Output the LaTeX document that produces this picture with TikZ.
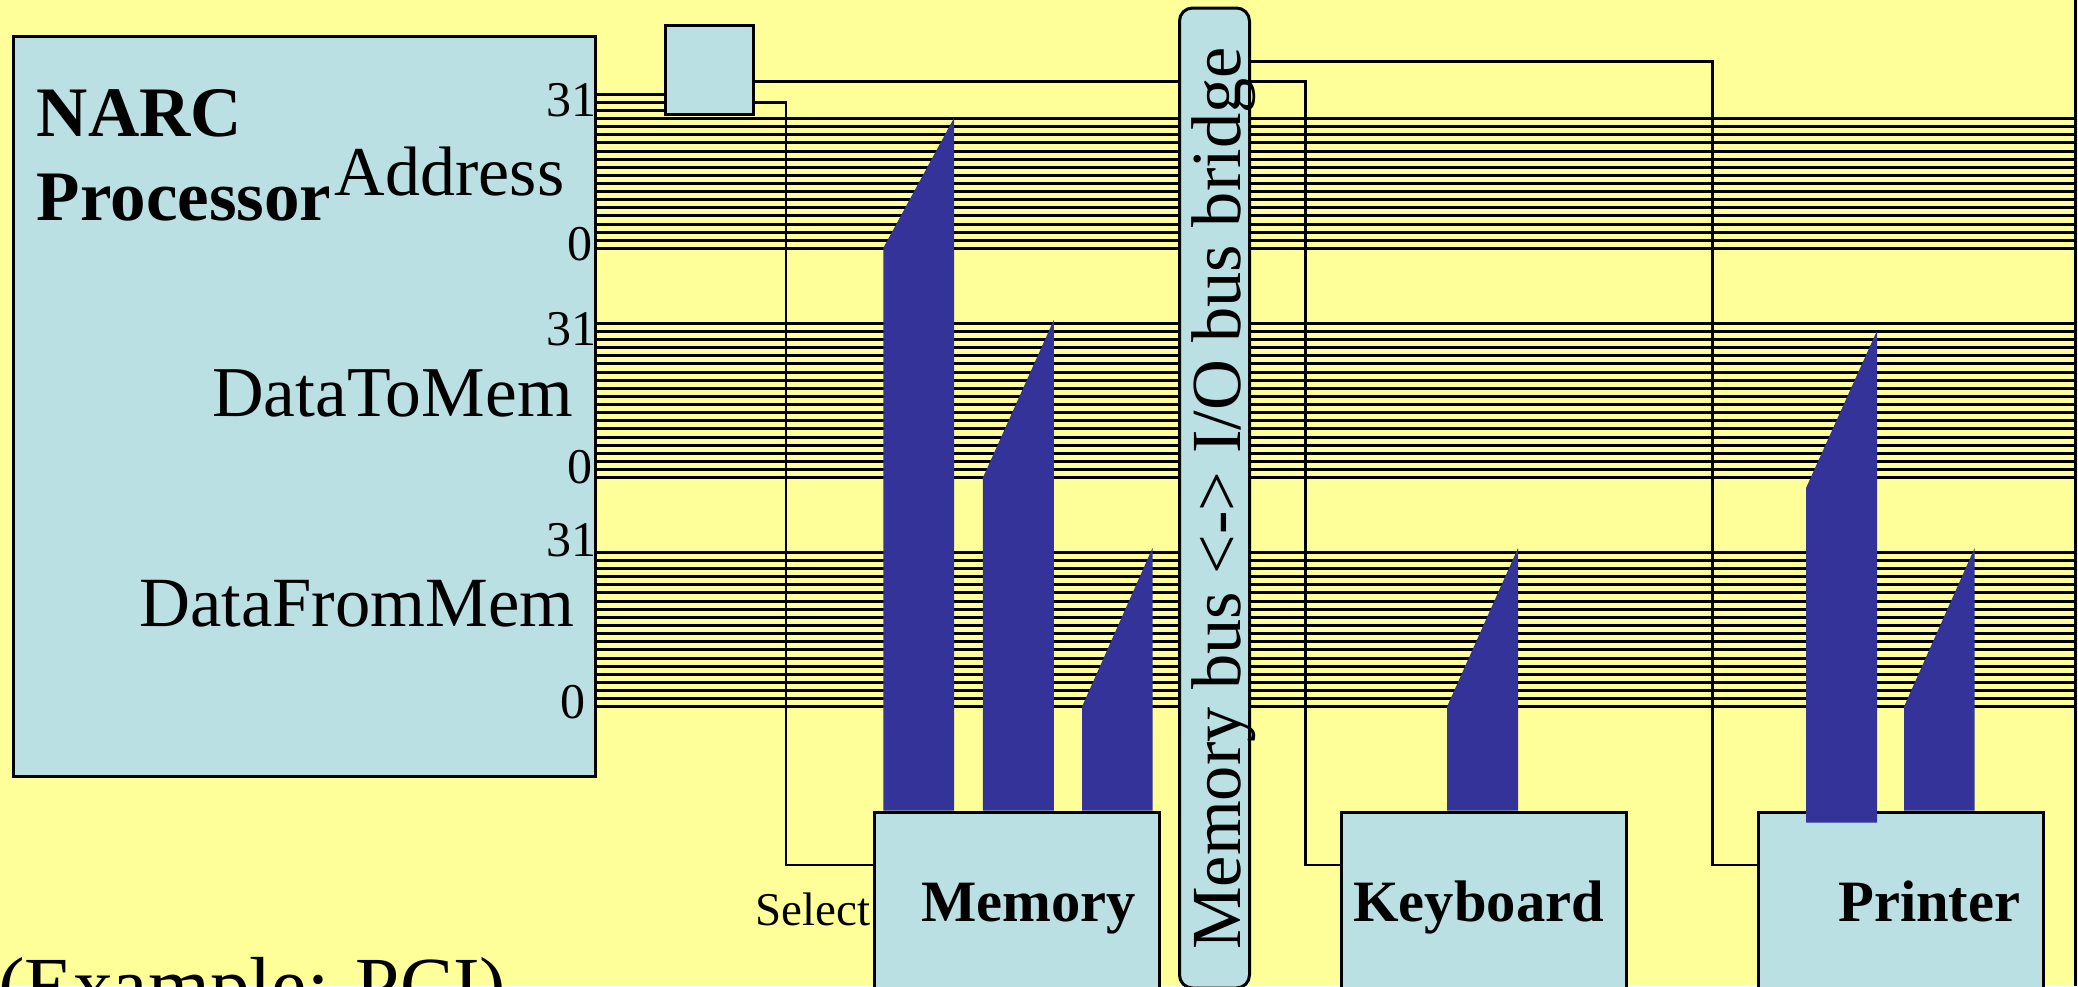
\documentclass[tikz,border=0pt]{standalone}
\usepackage{xcolor}
\usepackage{fontspec}
\setmainfont{Liberation Serif}
\usepackage{tikz}
\definecolor{pagecol}{HTML}{FFFF99}
\definecolor{boxcol}{HTML}{BBE0E3}
\definecolor{stubcol}{HTML}{333399}
\newcommand{\fsz}[1]{\fontsize{#1}{#1}\selectfont}

\begin{document}
\begin{tikzpicture}[x=1pt,y=-1pt,
  wire/.style={draw=black,line width=2.8pt,line cap=rect},
  buswire/.style={draw=black,line width=3pt},
  box/.style={draw=black,fill=boxcol,line width=3pt,outer sep=0pt,inner sep=0pt,anchor=north west},
  stub/.style={fill=stubcol},
  boxlabel/.style={font=\fsz{58.6}\bfseries,anchor=base west,inner sep=0pt},
  buslabel/.style={font=\fsz{70.6},anchor=base west,inner sep=0pt},
  bitlabel/.style={font=\fsz{50},anchor=base east,inner sep=0pt}]
\useasboundingbox (0,0) rectangle (2078,986);
\fill[pagecol] (0,0) rectangle (2078,986);
\clip (0,0) rectangle (2078,986);
\node[box,minimum width=582pt,minimum height=740pt] at (13,36) (cpu) {};
\node[box,minimum width=88pt,minimum height=89pt] at (665,25) (latch) {};
\node[box,minimum width=285.5pt,minimum height=300pt] at (874,812) (memory) {};
\node[box,minimum width=285pt,minimum height=300pt] at (1341,812) (keyboard) {};
\node[box,minimum width=285pt,minimum height=300pt] at (1758,812) (printer) {};
\coordinate (edge) at (2075,0);
\draw[buswire] (edge) -- (2075,986);
% address, data to memory, data from memory
\foreach \n [evaluate=\n as \y using 94.3+8.11*\n] in {0,1,2}
  \draw[buswire] (cpu.east |- 0,\y) -- (latch.west |- 0,\y);
\foreach \n [evaluate=\n as \y using 94.3+8.11*\n] in {3,...,19}
  \draw[buswire] (cpu.east |- 0,\y) -- (edge |- 0,\y);
\foreach \n [evaluate=\n as \y using 323.3+8.13*\n] in {0,...,19}
  \draw[buswire] (cpu.east |- 0,\y) -- (edge |- 0,\y);
\foreach \n [evaluate=\n as \y using 552.3+8.13*\n] in {0,...,19}
  \draw[buswire] (cpu.east |- 0,\y) -- (edge |- 0,\y);
\node[box,rounded corners=13pt,minimum width=70pt,minimum height=980pt] at (1179.5,8) (bridge) {};
\draw[wire] (latch.east |- 0,102.3) -- (786,102.3) |- (memory.west |- 0,865);
\draw[wire] (latch.east |- 0,81.3) -- (bridge.west |- 0,81.3);
\draw[wire] (bridge.east |- 0,81.3) -- (1305.5,81.3) |- (keyboard.west |- 0,865);
\draw[wire] (bridge.east |- 0,61.7) -- (1712.5,61.7) |- (printer.west |- 0,865);
% x left, x right, bottom, corner, tip
\foreach \xa/\xb/\yb/\yc/\yt in {883.3/954/810.5/248/118,982.9/1053.8/810.5/477.7/320,1082/1152.5/810.5/706.7/548,1447/1518/810.5/706.7/548,1806/1877/822.7/488/330.7,1904/1974.6/810.5/706.7/548}
  \fill[stub] (\xa,\yb) -- (\xb,\yb) -- (\xb,\yt) -- (\xa,\yc) -- cycle;
\node[font=\fsz{71}\bfseries,anchor=base west,inner sep=0pt,align=left] at (36.7,220.7) (cpuname) {NARC\\[13pt]Processor};
\node[font=\fsz{70},anchor=base west,inner sep=0pt] at (334.7,195) (addrname) {Address};
\node[buslabel,font=\fsz{71.5}] at (212,416) (tomemname) {DataToMem};
\node[buslabel] at (139,626.5) (frommemname) {DataFromMem};
\node[bitlabel] at (597,116) (addrhi) {31};
\node[bitlabel] at (593,260) (addrlo) {0};
\node[bitlabel] at (597,345) (tomemhi) {31};
\node[bitlabel] at (593,483) (tomemlo) {0};
\node[bitlabel] at (597,556.7) (frommemhi) {31};
\node[bitlabel] at (586,718) (frommemlo) {0};
\node[font=\fsz{47},anchor=base west,inner sep=0pt] at (755,925.7) (selname) {Select};
\node[boxlabel] at (921,921.7) (memname) {Memory};
\node[boxlabel] at (1353,921.7) (keyname) {Keyboard};
\node[boxlabel] at (1838,921.7) (prnname) {Printer};
\node[font=\fsz{70.4},rotate=90,anchor=base,inner sep=0pt] at (1240,498.5) (bridgename) {Memory bus <-> I/O bus bridge};
\node[font=\fsz{79.5},anchor=base west,inner sep=0pt] at (-2,1012) (pciname) {(Example: PCI)};
\end{tikzpicture}
\end{document}
